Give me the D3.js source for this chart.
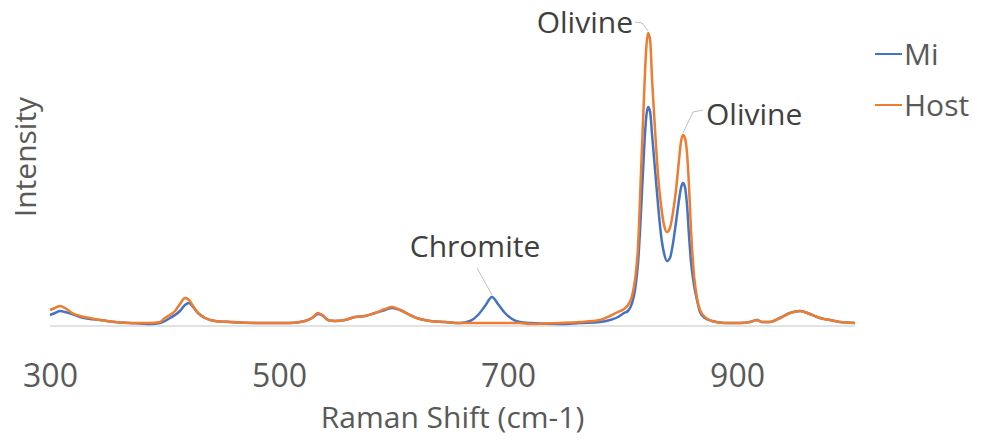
<!DOCTYPE html>
<html>
<head>
<meta charset="utf-8">
<script src="https://cdn.jsdelivr.net/npm/d3@7"></script>
<style>
    body { margin: 0; background: #fff; }
    svg { display: block; font-family: "Open Sans", sans-serif; }
</style>
</head>
<body>
<svg id="chart" width="981" height="443"></svg>
<script>
// Raman shift (cm-1)
var shift = [300.0, 304.4, 308.7, 313.1, 319.2, 326.2, 334.9, 343.7, 356.8, 369.9,
    387.3, 396.1, 400.4, 404.8, 409.2, 413.5, 417.9, 421.4, 424.9, 429.2,
    435.4, 444.1, 457.2, 483.4, 509.6, 522.7, 528.8, 534.0, 537.5, 542.8,
    548.9, 557.6, 566.4, 575.1, 583.8, 592.6, 598.7, 605.7, 614.4, 623.1,
    631.9, 645.0, 658.0, 666.8, 673.8, 679.9, 686.0, 691.2, 697.3, 703.5,
    710.4, 719.2, 745.4, 762.8, 780.3, 789.0, 796.0, 801.3, 804.8, 808.3,
    810.9, 813.6, 816.2, 818.8, 820.6, 822.3, 824.1, 825.8, 828.4, 831.0,
    833.6, 836.2, 838.8, 841.4, 844.1, 846.7, 849.3, 851.0, 852.8, 854.5,
    856.3, 858.0, 859.8, 862.4, 865.0, 867.6, 872.0, 878.1, 889.5, 902.6,
    911.3, 917.4, 921.8, 928.8, 937.5, 946.2, 955.0, 963.7, 972.4, 981.2,
    989.9, 1003.0];

var miValues = [110, 130, 150, 140, 120, 90, 70, 60, 40, 30,
    20, 30, 50, 80, 110, 150, 210, 230, 190, 130,
    80, 50, 40, 30, 30, 50, 80, 120, 110, 60,
    50, 60, 90, 100, 130, 160, 180, 160, 110, 70,
    50, 40, 30, 50, 110, 200, 290, 220, 130, 70,
    40, 30, 20, 30, 40, 60, 90, 130, 150, 230,
    360, 640, 1160, 1760, 2080, 2190, 2140, 1910, 1560, 1210,
    910, 730, 650, 680, 830, 1040, 1260, 1380, 1430, 1390,
    1210, 910, 640, 410, 260, 140, 80, 50, 30, 30,
    40, 60, 40, 40, 80, 130, 150, 120, 80, 60,
    40, 30];

var hostValues = [160, 180, 200, 180, 130, 100, 80, 60, 40, 30,
    30, 40, 80, 110, 150, 220, 280, 260, 200, 130,
    80, 50, 40, 30, 30, 50, 80, 130, 110, 60,
    50, 60, 90, 100, 130, 170, 190, 160, 110, 70,
    50, 40, 30, 30, 30, 30, 30, 30, 30, 30,
    30, 20, 30, 40, 60, 100, 140, 170, 210, 300,
    460, 810, 1560, 2310, 2760, 2930, 2860, 2460, 1960, 1510,
    1210, 1010, 940, 980, 1140, 1360, 1660, 1840, 1910, 1880,
    1730, 1410, 960, 510, 280, 160, 90, 50, 30, 30,
    40, 60, 40, 40, 80, 130, 150, 120, 80, 60,
    40, 30];

var seriesNames = ["Mi", "Host"];
var seriesColors = ["#4472C4", "#ED7D31"];
var tickValues = [300, 500, 700, 900];

// peak labels: text, series it points at, shift of the peak
var peakLabels = ["Chromite", "Olivine", "Olivine"];
var peakSeries = ["Mi", "Host", "Host"];
var peakShift = [686.0, 822.3, 852.8];

var svg = d3.select("#chart");

var x = d3.scaleLinear().domain([300, 1003]).range([50, 855]);
var y = d3.scaleLinear().domain([0, 2960]).range([326, 30]);

var series = [miValues, hostValues].map(function(vals, i) {
    return {
        name: seriesNames[i],
        color: seriesColors[i],
        points: shift.map(function(s, j) { return {x: s, y: vals[j]}; })
    };
});

//horizontal axis line
svg.append("line")
    .attr("x1", x(300)).attr("x2", x(1003))
    .attr("y1", y(0)).attr("y2", y(0))
    .attr("stroke", "#d9d9d9")
    .attr("stroke-width", 1.5);

var line = d3.line()
    .x(function(d) { return x(d.x); })
    .y(function(d) { return y(d.y); })
    .curve(d3.curveMonotoneX);

svg.selectAll("path.series")
    .data(series)
    .enter().append("path")
    .attr("class", "series")
    .attr("d", function(d) { return line(d.points); })
    .attr("fill", "none")
    .attr("stroke", function(d) { return d.color; })
    .attr("stroke-width", 2.5)
    .attr("stroke-linejoin", "round");

// x tick labels, no tick marks
var xAxis = d3.axisBottom(x).tickValues(tickValues).tickSize(0).tickPadding(0);
var gx = svg.append("g").attr("transform", "translate(0,387)").call(xAxis);
gx.select(".domain").remove();
gx.selectAll("text")
    .attr("dy", 0)
    .attr("y", 0)
    .attr("fill", "#595959")
    .style("font-size", "32px")
    .style("font-family", "'Open Sans', sans-serif");

svg.append("text")
    .attr("x", (x.range()[0] + x.range()[1]) / 2)
    .attr("y", 428)
    .attr("text-anchor", "middle")
    .attr("fill", "#595959")
    .style("font-size", "30px")
    .text("Raman Shift (cm-1)");

svg.append("text")
    .attr("transform", "translate(36,157) rotate(-90)")
    .attr("text-anchor", "middle")
    .attr("fill", "#595959")
    .style("font-size", "30px")
    .text("Intensity");

// peak labels with leader lines
var labelOffsets = [
    {tx: 475, ty: 257, anchor: "middle", leader: [[477, 268]]},
    {tx: 633, ty: 33, anchor: "end", leader: [[635, 22], [642, 23]]},
    {tx: 706, ty: 125, anchor: "start", leader: [[703, 110], [693, 112]]}
];

peakLabels.forEach(function(lbl, i) {
    var s = series.find(function(d) { return d.name === peakSeries[i]; });
    var idx = shift.indexOf(peakShift[i]);
    var p = s.points[idx];
    var o = labelOffsets[i];
    var pts = o.leader.concat([[x(p.x), y(p.y) - 2]]);
    svg.append("path")
        .attr("d", d3.line()(pts))
        .attr("fill", "none")
        .attr("stroke", "#bfbfbf")
        .attr("stroke-width", 1);
    svg.append("text")
        .attr("x", o.tx).attr("y", o.ty)
        .attr("text-anchor", o.anchor)
        .attr("fill", "#404040")
        .style("font-size", "30px")
        .text(lbl);
});

// legend
var legend = svg.selectAll("g.legend")
    .data(series)
    .enter().append("g")
    .attr("class", "legend")
    .attr("transform", function(d, i) { return "translate(875," + (54 + i * 51) + ")"; });

legend.append("line")
    .attr("x1", 0).attr("x2", 27)
    .attr("stroke", function(d) { return d.color; })
    .attr("stroke-width", 2);

legend.append("text")
    .attr("x", 29).attr("y", 11)
    .attr("fill", "#595959")
    .style("font-size", "30px")
    .text(function(d) { return d.name; });
</script>
</body>
</html>
